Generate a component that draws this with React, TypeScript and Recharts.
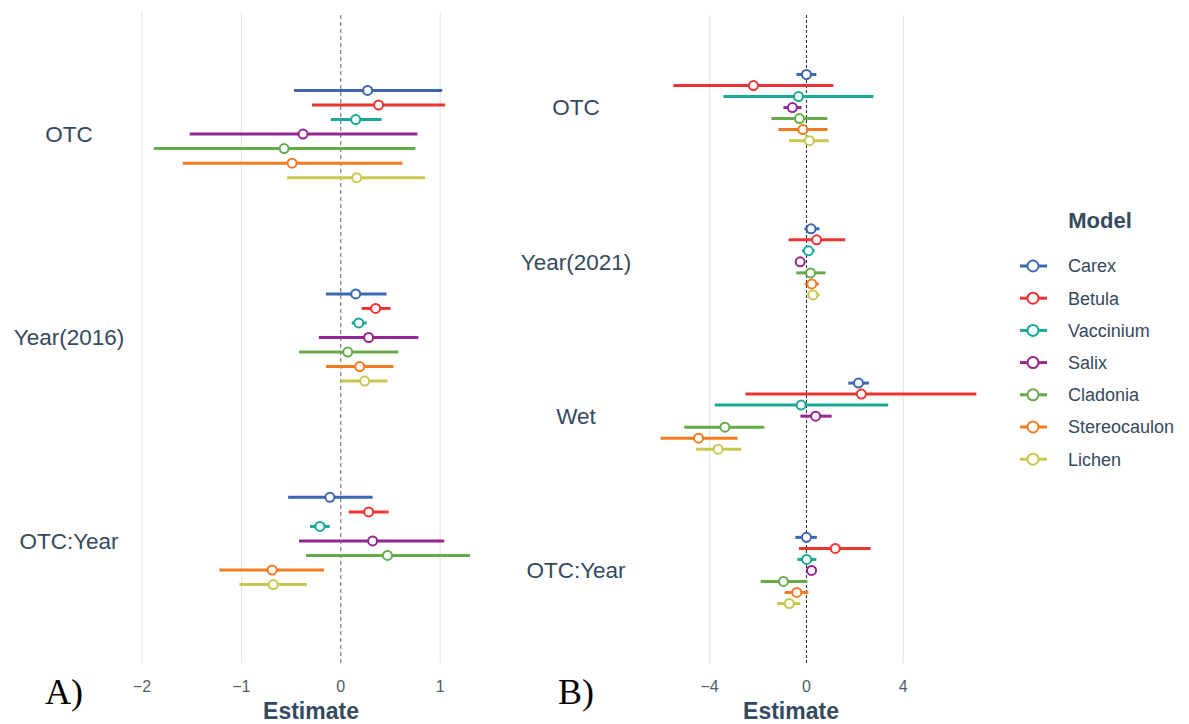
import React from 'react';
import { ScatterChart, Scatter, XAxis, YAxis, ReferenceLine, ErrorBar } from 'recharts';

const models = ['Carex', 'Betula', 'Vaccinium', 'Salix', 'Cladonia', 'Stereocaulon', 'Lichen'];
const colors = ['#3B66B0', '#EE3333', '#1AA898', '#952590', '#66AA4A', '#F47A22', '#C8C84E'];

// panel A: rows = model, cols = term
const termsA = ['OTC', 'Year(2016)', 'OTC:Year'];
const estimateA = [
  [0.27, 0.15, -0.11],
  [0.38, 0.35, 0.28],
  [0.15, 0.18, -0.21],
  [-0.38, 0.28, 0.32],
  [-0.57, 0.07, 0.47],
  [-0.49, 0.19, -0.69],
  [0.16, 0.24, -0.68],
];
const lowerA = [
  [-0.47, -0.15, -0.53],
  [-0.29, 0.21, 0.08],
  [-0.10, 0.11, -0.31],
  [-1.52, -0.22, -0.42],
  [-1.88, -0.42, -0.35],
  [-1.59, -0.15, -1.22],
  [-0.54, 0.0, -1.02],
];
const upperA = [
  [1.02, 0.46, 0.32],
  [1.05, 0.50, 0.48],
  [0.41, 0.26, -0.11],
  [0.77, 0.78, 1.04],
  [0.75, 0.58, 1.30],
  [0.62, 0.53, -0.17],
  [0.85, 0.47, -0.34],
];

// panel B
const termsB = ['OTC', 'Year(2021)', 'Wet', 'OTC:Year'];
const estimateB = [
  [0.0, 0.19, 2.15, 0.0],
  [-2.19, 0.42, 2.27, 1.19],
  [-0.33, 0.08, -0.22, 0.01],
  [-0.58, -0.26, 0.38, 0.21],
  [-0.29, 0.17, -3.37, -0.95],
  [-0.15, 0.22, -4.46, -0.40],
  [0.12, 0.27, -3.65, -0.71],
];
const lowerB = [
  [-0.41, -0.08, 1.73, -0.46],
  [-5.5, -0.74, -2.52, -0.31],
  [-3.43, -0.18, -3.79, -0.37],
  [-0.95, -0.42, -0.25, 0.05],
  [-1.45, -0.42, -5.05, -1.89],
  [-1.16, -0.07, -6.03, -0.90],
  [-0.72, 0.05, -4.56, -1.21],
];
const upperB = [
  [0.41, 0.54, 2.58, 0.43],
  [1.11, 1.60, 7.02, 2.65],
  [2.77, 0.34, 3.38, 0.41],
  [-0.20, -0.10, 1.04, 0.37],
  [0.86, 0.79, -1.74, 0.04],
  [0.87, 0.51, -2.85, 0.08],
  [0.92, 0.54, -2.70, -0.26],
];

const ticksA = [-2, -1, 0, 1];
const ticksB = [-4, 0, 4];

const DODGE = 0.5 / 7;
const FONT = '"Liberation Sans", Arial, sans-serif';
const LABEL_COLOR = '#34495E';

const buildRows = (est: number[][], lo: number[][], hi: number[][]) =>
  models.map((m, i) =>
    est[i].map((e, t) => ({
      x: e,
      y: t + (i - 3) * DODGE,
      err: [e - lo[i][t], hi[i][t] - e],
    }))
  );

const fmt = (v: number) => String(v).replace('-', '\u2212');

function Dot(props: any) {
  const { cx, cy, fill } = props;
  return <circle cx={cx} cy={cy} r={4.5} fill="#fff" stroke={fill} strokeWidth={2} />;
}

interface PanelProps {
  terms: string[];
  rows: any[][];
  xDomain: number[];
  xTicks: number[];
  yAxisWidth: number;
  labelX: number;
  marginTop: number;
  marginRight: number;
  dash: string;
  dashColor: string;
}

function Panel({ terms, rows, xDomain, xTicks, yAxisWidth, labelX, marginTop, marginRight, dash, dashColor }: PanelProps) {
  const n = terms.length;
  return (
    <ScatterChart width={500} height={724} margin={{ top: marginTop, right: marginRight, bottom: 21, left: 0 }}>
      <XAxis
        type="number"
        dataKey="x"
        domain={xDomain}
        ticks={xTicks}
        allowDataOverflow
        axisLine={false}
        tickLine={false}
        height={40}
        tickMargin={12}
        tickFormatter={fmt}
        tick={{ fill: '#4F5D6B', fontSize: 16, fontFamily: FONT }}
      />
      <YAxis
        type="number"
        dataKey="y"
        reversed
        domain={[-0.6, n - 0.4]}
        ticks={terms.map((_, i) => i)}
        allowDataOverflow
        axisLine={false}
        tickLine={false}
        width={yAxisWidth}
        tick={(p: any) => (
          <text
            key={p.index}
            x={labelX}
            y={p.y}
            dy="0.35em"
            textAnchor="middle"
            fill={LABEL_COLOR}
            fontSize={22.5}
            fontFamily={FONT}
          >
            {terms[p.payload.value]}
          </text>
        )}
      />
      {xTicks.filter((t) => t !== 0).map((t) => (
        <ReferenceLine key={t} x={t} stroke="#E3E3E3" strokeWidth={1} />
      ))}
      <ReferenceLine x={0} stroke={dashColor} strokeDasharray={dash} strokeWidth={1} />
      {models.map((m, i) => (
        <Scatter key={m} name={m} data={rows[i]} fill={colors[i]} shape={<Dot />} isAnimationActive={false}>
          <ErrorBar dataKey="err" direction="x" width={0} stroke={colors[i]} strokeWidth={3} isAnimationActive={false} />
        </Scatter>
      ))}
    </ScatterChart>
  );
}

export default function App() {
  const rowsA = buildRows(estimateA, lowerA, upperA);
  const rowsB = buildRows(estimateB, lowerB, upperB);
  return (
    <div style={{ position: 'absolute', left: 0, top: 0, width: 1189, height: 724, background: '#fff', overflow: 'hidden' }}>
      <div style={{ position: 'absolute', left: 0, top: 0 }}>
        <Panel
          terms={termsA}
          rows={rowsA}
          xDomain={[-2.08, 1.4]}
          xTicks={ticksA}
          yAxisWidth={134}
          labelX={69}
          marginTop={12}
          marginRight={20}
          dash="4 3"
          dashColor="#666"
        />
      </div>
      <div style={{ position: 'absolute', left: 500, top: 0 }}>
        <Panel
          terms={termsB}
          rows={rowsB}
          xDomain={[-6.3, 7.42]}
          xTicks={ticksB}
          yAxisWidth={154}
          labelX={76}
          marginTop={15}
          marginRight={14}
          dash="3 2"
          dashColor="#222"
        />
      </div>
      <svg width={1189} height={724} style={{ position: 'absolute', left: 0, top: 0, pointerEvents: 'none' }}>
        <text x={311} y={719} textAnchor="middle" fontSize={23} fontWeight="bold" fill={LABEL_COLOR} fontFamily={FONT}>Estimate</text>
        <text x={791} y={719} textAnchor="middle" fontSize={23} fontWeight="bold" fill={LABEL_COLOR} fontFamily={FONT}>Estimate</text>
        <text x={45} y={704} fontSize={36} fill="#000" fontFamily='"Liberation Serif", "Times New Roman", serif'>A)</text>
        <text x={558} y={704} fontSize={36} fill="#000" fontFamily='"Liberation Serif", "Times New Roman", serif'>B)</text>
        <text x={1100} y={228} textAnchor="middle" fontSize={22} fontWeight="bold" fill={LABEL_COLOR} fontFamily={FONT}>Model</text>
        {models.map((m, i) => {
          const y = 266 + i * 32.2;
          return (
            <g key={m}>
              <line x1={1020} x2={1047} y1={y} y2={y} stroke={colors[i]} strokeWidth={3} />
              <circle cx={1033} cy={y} r={5.5} fill="#fff" stroke={colors[i]} strokeWidth={2} />
              <text x={1068} y={y} dy="0.35em" fontSize={18} fill={LABEL_COLOR} fontFamily={FONT}>{m}</text>
            </g>
          );
        })}
      </svg>
    </div>
  );
}
